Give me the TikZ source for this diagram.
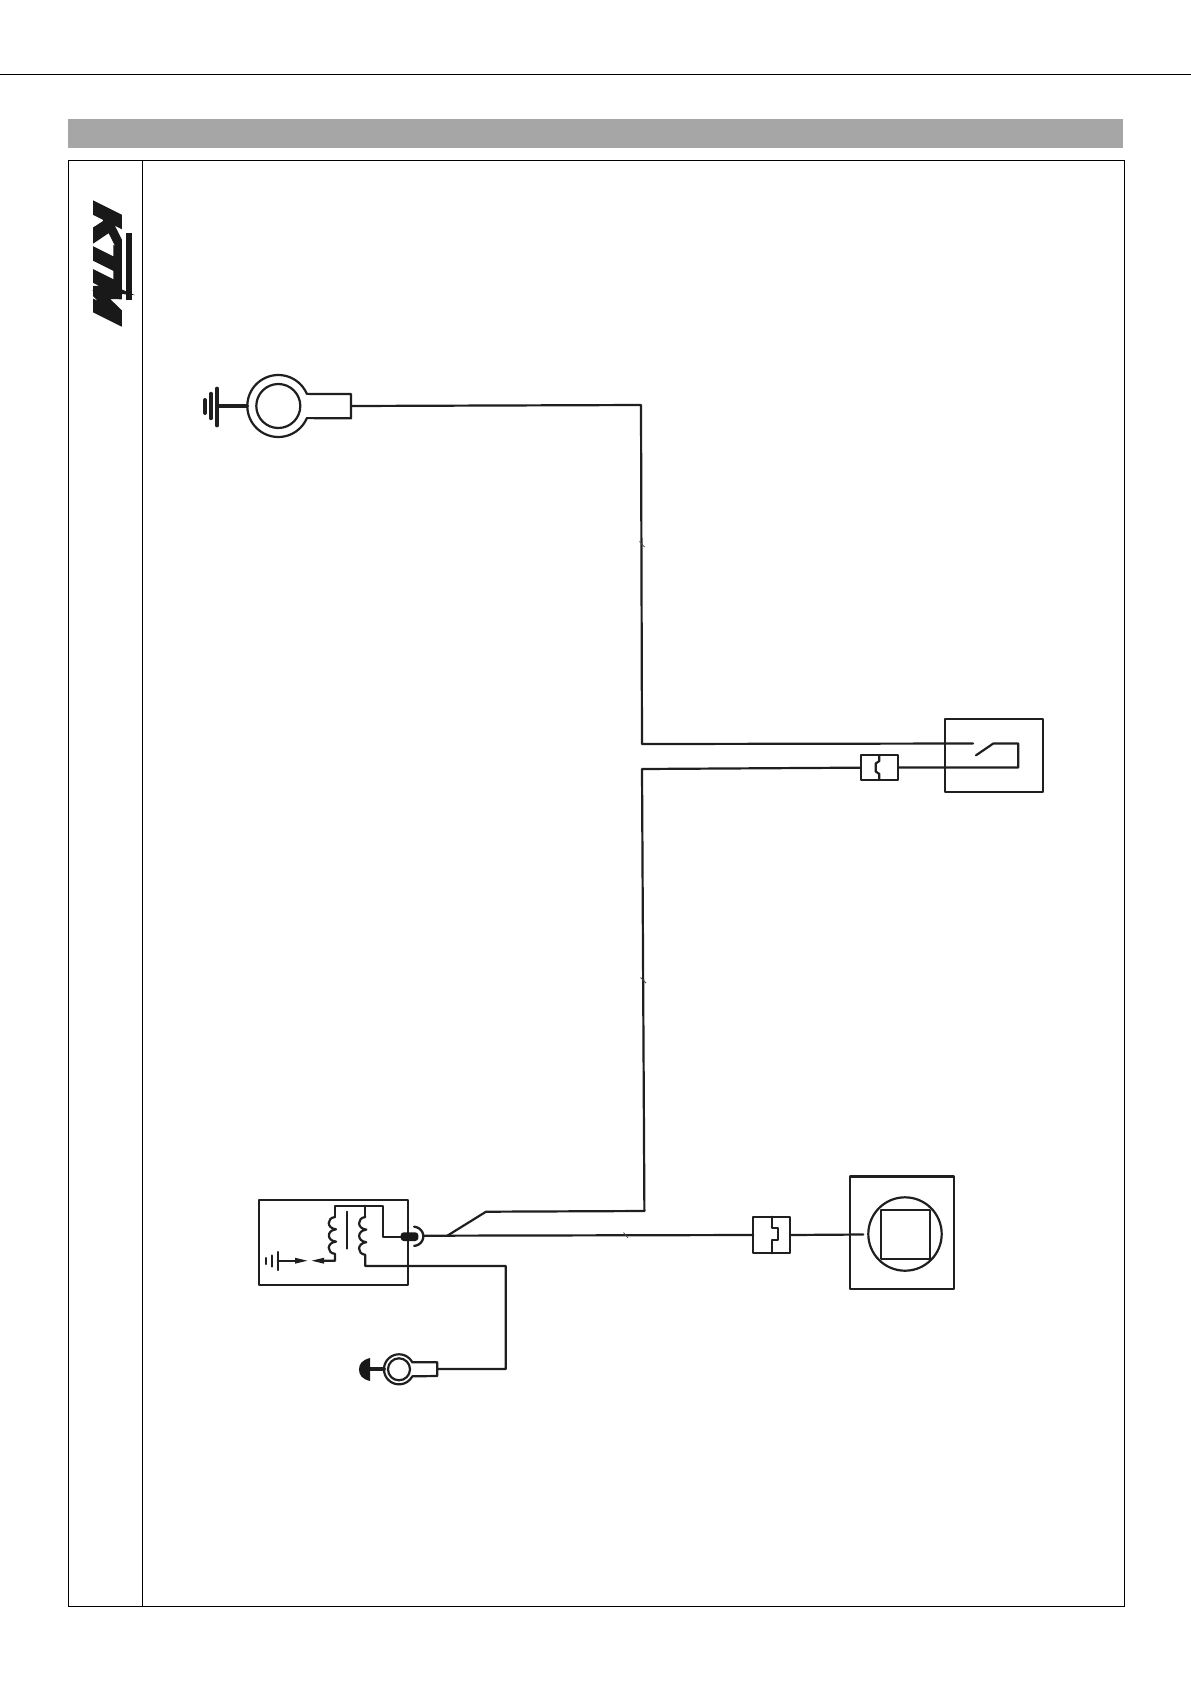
\documentclass[tikz,border=0pt]{standalone}
\usepackage{fontspec}
\newfontfamily\logofont[FakeSlant=0.34,FakeBold=13]{Liberation Sans Bold}
\tikzset{
  ink/.style={draw=black!88,line cap=round,line join=round},
  wire/.style={ink,line width=2.2pt},
  heavy/.style={ink,line width=3.8pt},
  boxnode/.style={rectangle,ink,line width=2.2pt,inner sep=0pt,outer sep=0pt,anchor=north west},
  tick/.style={draw=black!70,line width=.8pt},
  frame/.style={draw=black,line width=1.2pt},
}
\newcommand{\coilbumps}[3]{% x, y start, bump height
  (#1,#2) .. controls (#1-8.5,#2+1) and (#1-8.5,#2+#3-1) .. (#1+1,#2+#3)
  .. controls (#1-8.5,#2+#3+1) and (#1-8.5,#2+2*#3-1) .. (#1+1,#2+2*#3)
  .. controls (#1-8.5,#2+2*#3+1) and (#1-8.5,#2+3*#3-1) .. (#1,#2+3*#3)}
\begin{document}
\begin{tikzpicture}[x=1pt,y=-1pt]
\useasboundingbox (0,0) rectangle (1191,1684);
% page furniture
\draw[line width=1.2pt,black] (0,74.6) -- (1191,74.6);
\fill[black!35] (68,119) rectangle (1123,148);
\draw[frame] (68.5,160.5) rectangle (1124.5,1606.7);
\draw[frame] (142.5,160.5) -- (142.5,1606.7);
% logo
\node[rotate=-90,inner sep=0pt,text=black!90,xscale=1.475] (logo) at (107.5,257.5) {\logofont\fontsize{35}{35}\selectfont KTM};
\fill[black!90] (125.7,233) rectangle (131.5,300);

% boxes
\node[boxnode,minimum width=97.4pt,minimum height=73pt] (switch) at (945.3,718.7) {};
\node[boxnode,minimum width=37.3pt,minimum height=24.7pt] (fuseA) at (860.7,755.3) {};
\node[boxnode,minimum width=36.7pt,minimum height=36.6pt] (fuseB) at (753.3,1216.7) {};
\node[boxnode,minimum width=103.6pt,minimum height=112.2pt] (lampbox) at (850,1176.5) {};
\node[boxnode,minimum width=148.4pt,minimum height=85pt] (coilbox) at (259.3,1200) {};
\node[circle,ink,line width=2.2pt,minimum size=73.4pt,inner sep=0pt,outer sep=0pt] (lampc) at (905,1234) {};
\node[boxnode,minimum width=49.3pt,minimum height=49pt] (lampq) at (880.7,1210) {};

% named points
\coordinate (lugA) at (351,406);
\coordinate (j1) at (641,405);
\coordinate (j2) at (642,744);
\coordinate (swL) at (973,743.5);
\coordinate (swB) at (976,755.3);
\coordinate (swC) at (993.3,743.5);
\coordinate (swD) at (1018.3,743.5);
\coordinate (swE) at (1018.3,767.5);
\coordinate (j3) at (642,769);
\coordinate (j4) at (644.4,1211);
\coordinate (j5) at (486,1211.7);
\coordinate (j6) at (447.3,1235.7);
\coordinate (cup) at (424,1235.7);
\coordinate (lampin) at (863.3,1234.5);
\coordinate (plug) at (400.7,1236.7);
\coordinate (lugB) at (437.3,1369);
\coordinate (c1) at (505.7,1266);
\coordinate (c2) at (505.7,1369);

% ground lug, top
\draw[wire,fill=white] plot[domain=23:337,samples=60] ({278.3+31*cos(\x)},{406+31*sin(\x)}) -- (351,394) -- (351,418.3) -- cycle;
\draw[wire] (278.3,406) circle[radius=22];
\draw[heavy] (219,406) -- (247,406);
\draw[ink,line width=3.8pt] (217,388.5) -- (217,425.5);
\draw[ink,line width=3.4pt] (211,393.5) -- (211,418.5);
\draw[ink,line width=4pt] (205,400) -- (205,413);

% main wires
\draw[wire] (lugA) -- (j1) -- (j2) -- (swL);
\draw[wire] (swB) -- (swC) -- (swD) -- (swE) -- (fuseA.east |- swE);
\draw[wire] (fuseA.west) -- (j3) -- (j4) -- (j5) -- (j6);
\draw[wire] (cup) -- (fuseB.west);
\draw[wire] (fuseB.east) -- (lampin);

% fuse notches
\draw[wire] (879.3,755.3) -- (879.3,761) -- (875.7,763.5) -- (875.7,771.5) -- (879.3,774) -- (879.3,780);
\draw[wire] (771.7,1216.7) -- (771.7,1228.3) -- (778.3,1228.3) -- (778.3,1240) -- (771.7,1240) -- (771.7,1253.3);

% ignition coil
\draw[wire] (335,1217) -- (335,1205.7) -- (383.3,1205.7) -- (383.3,1236.7) -- (plug);
\draw[wire] (365.3,1205.7) -- (365.3,1217);
\draw[wire] \coilbumps{335}{1217}{12.3} -- (335,1260.7) -- (318,1260.7);
\draw[wire] \coilbumps{365.3}{1217}{12.6} -- (365.3,1266) -- (c1) -- (c2) -- (lugB);
\draw[wire] (347.3,1211.7) -- (347.3,1248.5);
\fill[black!88] (311.7,1260.7) -- (324,1257.7) -- (324,1263.7) -- cycle;
\fill[black!88] (307.3,1260.7) -- (295,1257.7) -- (295,1263.7) -- cycle;
\draw[wire] (277.7,1260.7) -- (300,1260.7);
\draw[wire] (277.7,1252) -- (277.7,1270);
\draw[wire] (271.7,1255.5) -- (271.7,1266.5);
\draw[wire] (265.7,1258) -- (265.7,1264);
\fill[black!90,rounded corners=3pt] (400.7,1232.3) rectangle (418.3,1241);
\draw[ink,line width=2.3pt] plot[domain=-85:85,samples=30] ({413.3+10*cos(\x)},{1236.3+9.6*sin(\x)});

% ground lug, bottom
\draw[wire,fill=white] plot[domain=28:332,samples=50] ({399+15*cos(\x)},{1369.3+15*sin(\x)}) -- (413,1362.3) -- (437.3,1362.3) -- (437.3,1376) -- (413,1376.3) -- cycle;
\draw[wire] (399,1369.3) circle[radius=11];
\draw[heavy] (368,1369.3) -- (384,1369.3);
\fill[black!90] (370,1358) .. controls (362,1360) and (359,1364) .. (359,1369.5) .. controls (359,1375) and (362,1379) .. (370,1381) -- cycle;

% ticks
\draw[tick] (639.5,541.5) -- (644.5,547);
\draw[tick] (640.5,977.5) -- (646,983);
\draw[tick] (623.5,1232.5) -- (628,1238);
\end{tikzpicture}
\end{document}
